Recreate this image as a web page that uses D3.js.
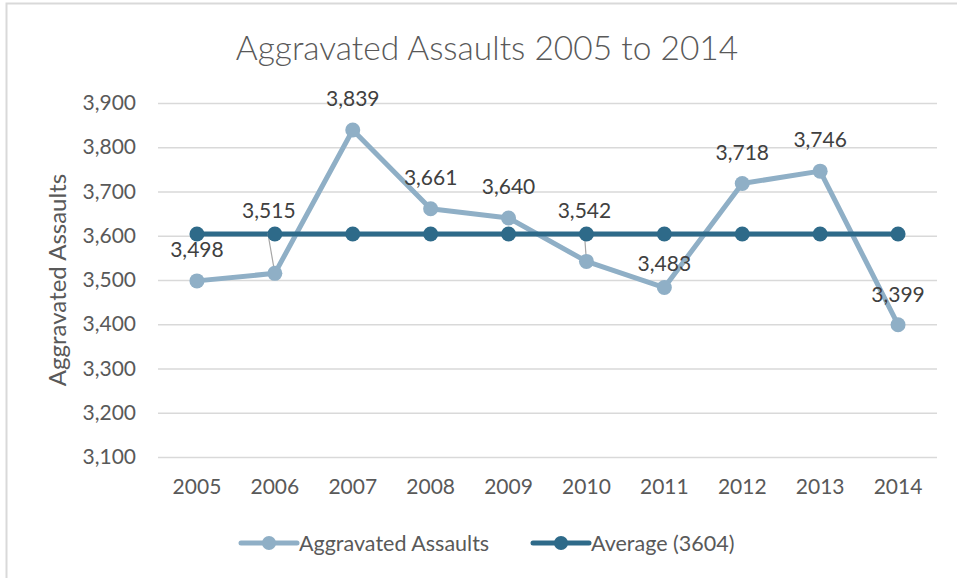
<!DOCTYPE html>
<html>
<head>
<meta charset="utf-8">
<script src="https://cdn.jsdelivr.net/npm/d3@7"></script>
<style>
  html, body { margin: 0; padding: 0; background: #fff; }
  svg { display: block; font-family: Lato, "Open Sans", sans-serif; }
</style>
</head>
<body>
<svg id="chart" width="957" height="578"></svg>
<script>
// Yearly counts of aggravated assaults and the ten-year average
const years = ["2005", "2006", "2007", "2008", "2009", "2010", "2011", "2012", "2013", "2014"];
const assaults = [3498, 3515, 3839, 3661, 3640, 3542, 3483, 3718, 3746, 3399];
const averageValue = 3604;
const average = years.map(() => averageValue);
const yTicks = [3100, 3200, 3300, 3400, 3500, 3600, 3700, 3800, 3900];

const seriesNames = ["Aggravated Assaults", "Average (" + averageValue + ")"];
const colors = { light: "#8fafc6", dark: "#2e6a89", text: "#595959", grid: "#d9d9d9" };

const svg = d3.select("#chart");
const margin = { left: 158, right: 20, top: 103, bottom: 121 };
const W = 957, H = 578;

const x = d3.scaleBand().domain(years).range([margin.left, W - margin.right]);
const y = d3.scaleLinear().domain([3100, 3900]).range([H - margin.bottom, margin.top]);
const cx = d => x(d) + x.bandwidth() / 2;

// chart frame (left and top edges)
svg.append("path")
  .attr("d", `M6.5,${H} L6.5,3.5 L${W},3.5`)
  .attr("fill", "none").attr("stroke", colors.grid).attr("stroke-width", 2);

// title
svg.append("text")
  .attr("x", 487).attr("y", 60)
  .attr("text-anchor", "middle")
  .attr("font-size", 33.5)
  .attr("font-weight", 300)
  .attr("fill", colors.text)
  .text("Aggravated Assaults 2005 to 2014");

// gridlines and y axis
const yAxis = d3.axisLeft(y).tickValues(yTicks)
  .tickSize(-(W - margin.right - margin.left))
  .tickPadding(22)
  .tickFormat(d3.format(","));
const gy = svg.append("g").attr("transform", `translate(${margin.left},0)`).call(yAxis);
gy.select(".domain").remove();
gy.selectAll(".tick line").attr("stroke", colors.grid).attr("stroke-width", 1.5);
gy.selectAll(".tick text").attr("fill", colors.text).attr("font-size", 21)
  .attr("font-family", "Lato, sans-serif");

// x axis labels
const xAxis = d3.axisBottom(x).tickSize(0).tickPadding(22);
const gx = svg.append("g").attr("transform", `translate(0,${H - margin.bottom})`).call(xAxis);
gx.select(".domain").remove();
gx.selectAll(".tick text").attr("fill", colors.text).attr("font-size", 21)
  .attr("font-family", "Lato, sans-serif");

// y axis title
svg.append("text")
  .attr("transform", `translate(66,280) rotate(-90)`)
  .attr("text-anchor", "middle")
  .attr("font-size", 24)
  .attr("fill", colors.text)
  .text("Aggravated Assaults");

const line = d3.line().x((d, i) => cx(years[i])).y(d => y(d));

// leader lines for labels lifted away from their points
const leaders = [
  { year: "2006", dx: -7, top: 233 },
  { year: "2010", dx: -2, top: 234 }
];

// assaults series
svg.append("path").datum(assaults)
  .attr("d", line).attr("fill", "none")
  .attr("stroke", colors.light).attr("stroke-width", 5).attr("stroke-linejoin", "round");

// average series
svg.append("path").datum(average)
  .attr("d", line).attr("fill", "none")
  .attr("stroke", colors.dark).attr("stroke-width", 5);

leaders.forEach(l => {
  const i = years.indexOf(l.year);
  svg.append("line")
    .attr("x1", cx(l.year)).attr("y1", y(assaults[i]))
    .attr("x2", cx(l.year) + l.dx).attr("y2", l.top)
    .attr("stroke", "#a6a6a6").attr("stroke-width", 1.2);
});

svg.append("g").selectAll("circle").data(assaults).join("circle")
  .attr("cx", (d, i) => cx(years[i])).attr("cy", d => y(d)).attr("r", 7.5)
  .attr("fill", colors.light);

svg.append("g").selectAll("circle").data(average).join("circle")
  .attr("cx", (d, i) => cx(years[i])).attr("cy", d => y(d)).attr("r", 7.5)
  .attr("fill", colors.dark);

// value labels (offsets from each point)
const labelOffsets = {
  "2005": [0, -24], "2006": [-6, -55], "2007": [0, -24], "2008": [0, -24],
  "2009": [0, -24], "2010": [-2, -43], "2011": [0, -17], "2012": [0, -24],
  "2013": [0, -24], "2014": [0, -23]
};
svg.append("g").selectAll("text").data(assaults).join("text")
  .attr("x", (d, i) => cx(years[i]) + labelOffsets[years[i]][0])
  .attr("y", (d, i) => y(d) + labelOffsets[years[i]][1])
  .attr("text-anchor", "middle")
  .attr("font-size", 21)
  .attr("fill", "#404040")
  .text(d => d3.format(",")(d));

// legend
const legend = [
  { name: seriesNames[0], color: colors.light, x0: 241, x1: 297 },
  { name: seriesNames[1], color: colors.dark, x0: 533, x1: 589 }
];
const ly = 543;
legend.forEach(l => {
  svg.append("line").attr("x1", l.x0).attr("x2", l.x1).attr("y1", ly).attr("y2", ly)
    .attr("stroke", l.color).attr("stroke-width", 5).attr("stroke-linecap", "round");
  svg.append("circle").attr("cx", (l.x0 + l.x1) / 2).attr("cy", ly).attr("r", 7).attr("fill", l.color);
  svg.append("text").attr("x", l.x1 + 2).attr("y", ly + 7.5)
    .attr("font-size", 21.5).attr("fill", colors.text).text(l.name);
});
</script>
</body>
</html>
